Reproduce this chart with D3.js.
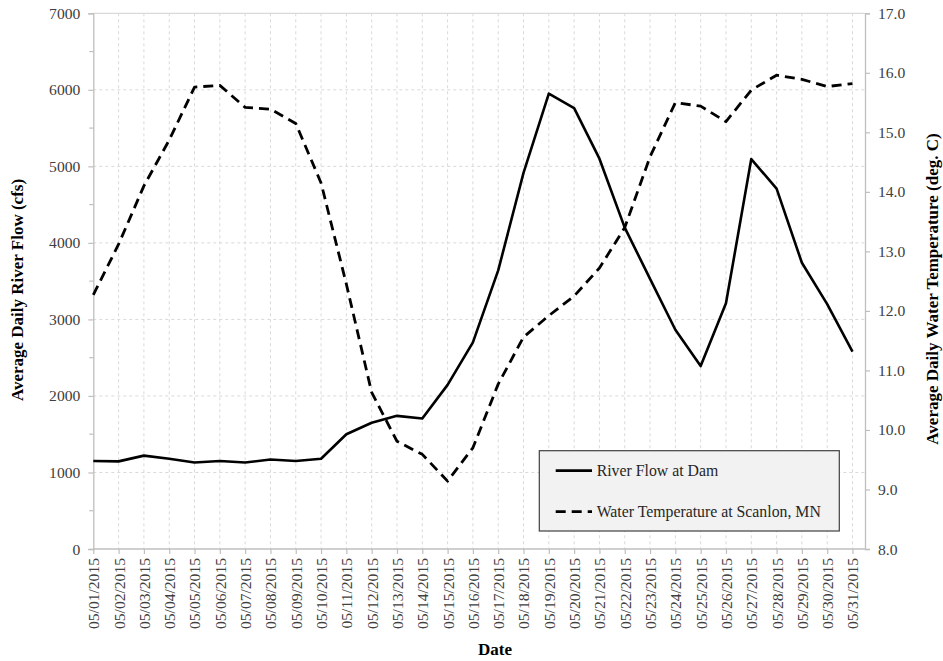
<!DOCTYPE html>
<html>
<head>
<meta charset="utf-8">
<script src="https://cdn.jsdelivr.net/npm/d3@7"></script>
<style>
  html, body { margin: 0; padding: 0; background: #fff; }
  svg { display: block; }
</style>
</head>
<body>
<svg id="chart" width="943" height="661"></svg>
<script>
// Daily dates for May 2015
const dates = ["05/01/2015","05/02/2015","05/03/2015","05/04/2015","05/05/2015","05/06/2015","05/07/2015","05/08/2015","05/09/2015","05/10/2015","05/11/2015","05/12/2015","05/13/2015","05/14/2015","05/15/2015","05/16/2015","05/17/2015","05/18/2015","05/19/2015","05/20/2015","05/21/2015","05/22/2015","05/23/2015","05/24/2015","05/25/2015","05/26/2015","05/27/2015","05/28/2015","05/29/2015","05/30/2015","05/31/2015"];

// Average daily river flow at the dam (cfs)
const riverFlow = [1150,1145,1220,1180,1130,1150,1130,1170,1150,1180,1500,1650,1740,1705,2145,2700,3640,4915,5950,5760,5100,4200,3530,2865,2390,3210,5095,4710,3740,3200,2580];

// Average daily water temperature at Scanlon, MN (deg. C)
const waterTemp = [12.27,13.12,14.1,14.87,15.76,15.79,15.42,15.39,15.15,14.15,12.45,10.63,9.81,9.59,9.14,9.7,10.77,11.56,11.92,12.25,12.72,13.4,14.59,15.5,15.44,15.18,15.71,15.96,15.89,15.77,15.82];

const flowTicks = [0,1000,2000,3000,4000,5000,6000,7000];
const flowMinorTicks = [500,1500,2500,3500,4500,5500,6500];
const tempTicks = [8,9,10,11,12,13,14,15,16,17];

const seriesNames = ["River Flow at Dam", "Water Temperature at Scanlon, MN"];
const xTitle = "Date";
const yLeftTitle = "Average Daily River Flow (cfs)";
const yRightTitle = "Average Daily Water Temperature (deg. C)";

const FONT = "'Liberation Serif'";
const svg = d3.select("#chart");

const plot = { left: 93.3, right: 865, top: 13.3, bottom: 549 };
const gridColor = "#d9d9d9";
const axisColor = "#bfbfbf";
const labelColor = "#404040";

const x = d3.scalePoint().domain(dates).range([plot.left, 852.5]);
const yFlow = d3.scaleLinear().domain([0, 7000]).range([plot.bottom, plot.top]);
const yTemp = d3.scaleLinear().domain([8, 17]).range([plot.bottom, plot.top]);

// Gridlines
const grid = svg.append("g");
grid.selectAll("line.h").data(flowTicks.filter(d => d > 0 && d < 7000)).join("line")
  .attr("x1", plot.left).attr("x2", plot.right)
  .attr("y1", d => yFlow(d)).attr("y2", d => yFlow(d))
  .attr("stroke", gridColor).attr("stroke-width", 1).attr("stroke-dasharray", "3,3");
grid.selectAll("line.v").data(dates.slice(1)).join("line")
  .attr("x1", d => x(d)).attr("x2", d => x(d))
  .attr("y1", plot.top).attr("y2", plot.bottom)
  .attr("stroke", gridColor).attr("stroke-width", 1).attr("stroke-dasharray", "3,3");
// Top edge
grid.append("line")
  .attr("x1", plot.left).attr("x2", plot.right)
  .attr("y1", yFlow(7000)).attr("y2", yFlow(7000))
  .attr("stroke", gridColor).attr("stroke-width", 1.2);

// Left axis
const leftAxis = svg.append("g").attr("transform", `translate(${plot.left},0)`)
  .call(d3.axisLeft(yFlow).tickValues(flowTicks).tickSize(5).tickPadding(8).tickFormat(d3.format("d")));
leftAxis.append("g").selectAll("line").data(flowMinorTicks).join("line")
  .attr("x1", -4).attr("x2", 0).attr("y1", d => yFlow(d)).attr("y2", d => yFlow(d));

// Right axis
const rightAxis = svg.append("g").attr("transform", `translate(${plot.right},0)`)
  .call(d3.axisRight(yTemp).tickValues(tempTicks).tickSize(5).tickPadding(8).tickFormat(d3.format(".1f")));

// Bottom axis
const bottomAxis = svg.append("g").attr("transform", `translate(0,${plot.bottom})`)
  .call(d3.axisBottom(x).tickSize(5).tickSizeOuter(0).tickPadding(0));
bottomAxis.select(".domain").attr("d", `M${plot.left},0H${plot.right}`);
bottomAxis.selectAll(".tick text")
  .attr("transform", "rotate(-90)")
  .attr("text-anchor", "end")
  .attr("x", -9).attr("y", 0).attr("dy", "0.35em");

[leftAxis, rightAxis, bottomAxis].forEach(g => {
  g.attr("font-family", null).attr("font-size", null);
  g.select(".domain").attr("stroke", axisColor).attr("stroke-width", 1.3);
  g.selectAll("line").attr("stroke", axisColor).attr("stroke-width", 1.2);
  g.selectAll("text").attr("fill", labelColor)
    .style("font-family", FONT).style("font-size", "15.6px");
});

// Series lines
const flowLine = d3.line().x((d, i) => x(dates[i])).y(d => yFlow(d));
const tempLine = d3.line().x((d, i) => x(dates[i])).y(d => yTemp(d));

svg.append("path").datum(waterTemp)
  .attr("d", tempLine).attr("fill", "none")
  .attr("stroke", "#000").attr("stroke-width", 2.8)
  .attr("stroke-dasharray", "10,6").attr("stroke-linejoin", "round");

svg.append("path").datum(riverFlow)
  .attr("d", flowLine).attr("fill", "none")
  .attr("stroke", "#000").attr("stroke-width", 2.6).attr("stroke-linejoin", "round");

// Axis titles
function title(text, transform) {
  svg.append("text").attr("transform", transform)
    .attr("text-anchor", "middle")
    .style("font-family", FONT).style("font-weight", "bold").style("font-size", "17px")
    .attr("fill", "#000").text(text);
}
title(xTitle, "translate(495,655)");
title(yLeftTitle, "translate(23,290) rotate(-90)");
title(yRightTitle, "translate(938,289) rotate(-90)");

// Legend
const legend = svg.append("g");
legend.append("rect")
  .attr("x", 539.3).attr("y", 450.7).attr("width", 300).attr("height", 80.3)
  .attr("fill", "#f2f2f2").attr("stroke", "#404040").attr("stroke-width", 1.2);
const legendRows = [
  { name: seriesNames[0], dash: null, y: 470.7 },
  { name: seriesNames[1], dash: "10,6", y: 511.7 }
];
legendRows.forEach(r => {
  legend.append("line")
    .attr("x1", 555.7).attr("x2", 592).attr("y1", r.y).attr("y2", r.y)
    .attr("stroke", "#000").attr("stroke-width", 2.8)
    .attr("stroke-dasharray", r.dash);
  legend.append("text").attr("x", 596.7).attr("y", r.y).attr("dy", "0.33em")
    .style("font-family", FONT).style("font-size", "15.8px")
    .attr("fill", "#262626").text(r.name);
});
</script>
</body>
</html>
